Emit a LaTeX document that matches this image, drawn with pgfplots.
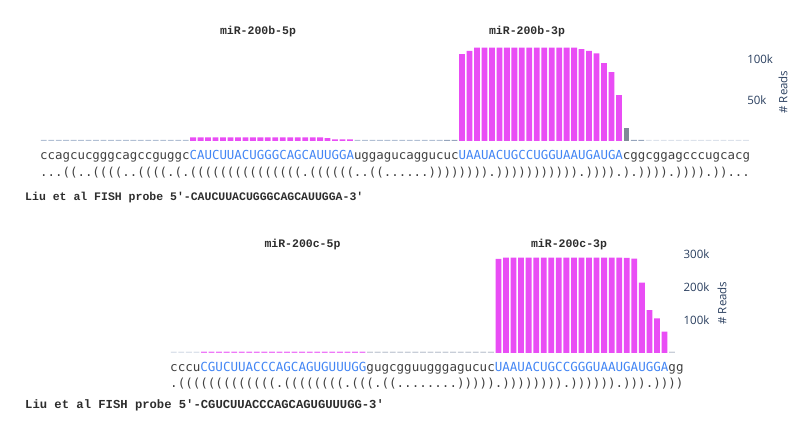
\documentclass[border=0pt]{standalone}
\usepackage{pgfplots}
\pgfplotsset{compat=1.18}
\usepackage{fontspec}
\setmainfont{Open Sans}
\newfontfamily\seqfont{DejaVu Sans Mono}
\newfontfamily\courfont{Liberation Mono}
\ExplSyntaxOn
\cs_new:Npn \rep #1#2 {\prg_replicate:nn{#1}{#2}}
\ExplSyntaxOff
\definecolor{mag}{RGB}{233,77,245}
\definecolor{grayb}{RGB}{128,138,152}
\definecolor{dashA}{RGB}{178,192,212}
\definecolor{dashB}{RGB}{150,165,188}
\definecolor{dashC}{RGB}{220,226,235}
\definecolor{dashD}{RGB}{200,206,216}
\definecolor{seqblue}{RGB}{66,133,244}
\definecolor{seqgray}{RGB}{64,64,64}
\definecolor{tickc}{RGB}{42,63,95}
\definecolor{titc}{RGB}{45,45,45}
\begin{document}
\begin{tikzpicture}
\path[use as bounding box] (0pt,0pt) rectangle (802pt,435pt);
% ---------------- top panel: miR-200b ----------------
\begin{axis}[
  at={(40pt,294pt)}, anchor=south west,
  scale only axis, width=709.65pt, height=98.4pt,
  xmin=-0.5, xmax=94.5, ymin=0, ymax=120,
  axis line style={draw=none}, tick style={draw=none},
  xtick=\empty, ytick={50,100}, yticklabels={50k,100k},
  yticklabel pos=right,
  yticklabel style={anchor=west, inner sep=0pt, xshift=-2.6pt, font=\fontsize{11.5}{13}\selectfont, text=tickc},
  clip=false,
]
\addplot[ybar, bar shift=0pt, bar width=5.8pt, fill=dashA, draw=none] coordinates {
(0,1.5)(1,1.5)(2,1.5)(3,1.5)(4,1.5)(5,1.5)(6,1.5)(7,1.5)(8,1.5)(9,1.5)
(10,1.5)(11,1.5)(12,1.5)(13,1.5)(14,1.5)(15,1.5)(16,1.5)(17,1.5)(18,1.5)(19,1.5)
(42,1.5)(43,1.5)(44,1.5)(45,1.5)(46,1.5)(47,1.5)(48,1.5)(49,1.5)(50,1.5)(51,1.5)(52,1.5)(53,1.5)};
\addplot[ybar, bar shift=0pt, bar width=5.8pt, fill=dashB, draw=none] coordinates {
(54,1.5)(55,1.5)(79,1.5)(80,1.5)};
\addplot[ybar, bar shift=0pt, bar width=5.8pt, fill=dashC, draw=none] coordinates {
(81,1.5)(82,1.5)(83,1.5)(84,1.5)(85,1.5)(86,1.5)(87,1.5)(88,1.5)(89,1.5)(90,1.5)
(91,1.5)(92,1.5)(93,1.5)(94,1.5)};
\addplot[ybar, bar shift=0pt, bar width=5.8pt, fill=mag, draw=none] coordinates {
(20,4.5)(21,4.5)(22,4.5)(23,4.5)(24,4.5)(25,4.5)(26,4.5)(27,4.5)(28,4.5)(29,4.5)
(30,4.5)(31,4.5)(32,4.5)(33,4.5)(34,4.5)(35,4.5)(36,4.5)(37,4.5)(38,3.5)(39,2)(40,2)(41,2)
(56,106)(57,110)(58,114)(59,114)(60,114)(61,114)(62,114)(63,114)(64,114)(65,114)
(66,114)(67,114)(68,114)(69,114)(70,114)(71,114)(72,112)(73,110)(74,107)(75,95)(76,84)(77,56)};
\addplot[ybar, bar shift=0pt, bar width=5.8pt, fill=grayb, draw=none] coordinates {(78,16)};
\end{axis}
% ---------------- bottom panel: miR-200c ----------------
\begin{axis}[
  at={(170pt,82pt)}, anchor=south west,
  scale only axis, width=513.4pt, height=99pt,
  xmin=-0.5, xmax=67.5, ymin=0, ymax=300,
  axis line style={draw=none}, tick style={draw=none},
  xtick=\empty, ytick={100,200,300}, yticklabels={100k,200k,300k},
  yticklabel pos=right,
  yticklabel style={anchor=west, inner sep=0pt, xshift=0pt, font=\fontsize{11.5}{13}\selectfont, text=tickc},
  clip=false,
]
\addplot[ybar, bar shift=0pt, bar width=5.8pt, fill=dashC, draw=none] coordinates {
(0,4)(1,4)(2,4)(3,4)};
\addplot[ybar, bar shift=0pt, bar width=5.8pt, fill=dashD, draw=none] coordinates {
(26,4)(27,4)(28,4)(29,4)(30,4)(31,4)(32,4)(33,4)(34,4)(35,4)(36,4)(37,4)(38,4)(39,4)
(40,4)(41,4)(42,4)(66,4)};
\addplot[ybar, bar shift=0pt, bar width=5.8pt, fill=mag!75!white, draw=none] coordinates {
(4,4)(5,4)(6,4)(7,4)(8,4)(9,4)(10,4)(11,4)(12,4)(13,4)(14,4)(15,4)(16,4)(17,4)
(18,4)(19,4)(20,4)(21,4)(22,4)(23,4)(24,4)(25,4)};
\addplot[ybar, bar shift=0pt, bar width=5.8pt, fill=mag, draw=none] coordinates {
(43,285)(44,289)(45,289)(46,289)(47,289)(48,289)(49,289)(50,289)(51,289)(52,289)
(53,289)(54,289)(55,289)(56,289)(57,289)(58,289)(59,289)(60,288)(61,286)
(62,213)(63,130)(64,105)(65,65)};
\end{axis}
% ---------------- texts ----------------
\begin{scope}[every node/.style={inner sep=0pt}]
% titles
\node[anchor=base, text=titc, font=\courfont\bfseries\fontsize{11.5}{13}\selectfont] at (258pt,400.5pt) {miR-200b-5p};
\node[anchor=base, text=titc, font=\courfont\bfseries\fontsize{11.5}{13}\selectfont] at (527pt,400.5pt) {miR-200b-3p};
\node[anchor=base, text=titc, font=\courfont\bfseries\fontsize{11.5}{13}\selectfont] at (302.5pt,187.7pt) {miR-200c-5p};
\node[anchor=base, text=titc, font=\courfont\bfseries\fontsize{11.5}{13}\selectfont] at (569pt,187.7pt) {miR-200c-3p};
% y labels
\node[rotate=90, text=tickc, font=\fontsize{11.5}{13}\selectfont] at (783pt,343pt) {\# Reads};
\node[rotate=90, text=tickc, font=\fontsize{11.5}{13}\selectfont] at (722pt,132pt) {\# Reads};
% top sequence
\node[anchor=base west, font=\seqfont\fontsize{12.41}{14}\selectfont] at (40pt,275.5pt) {%
\textcolor{seqgray}{ccagcucgggcagccguggc}%
\textcolor{seqblue}{CAUCUUACUGGGCAGCAUUGGA}%
\textcolor{seqgray}{uggagucaggucuc}%
\textcolor{seqblue}{UAAUACUGCCUGGUAAUGAUGA}%
\textcolor{seqgray}{cggcggagcccugcacg}};
% top structure
\node[anchor=base west, text=seqgray, font=\seqfont\fontsize{12.41}{14}\selectfont] at (40pt,258pt) {%
\rep{3}{.}\rep{2}{(}\rep{2}{.}\rep{4}{(}\rep{2}{.}\rep{4}{(}.(.\rep{15}{(}.\rep{6}{(}\rep{2}{.}\rep{2}{(}%
\rep{6}{.}\rep{8}{)}.\rep{11}{)}.\rep{4}{)}.).\rep{4}{)}.\rep{4}{)}.\rep{2}{)}\rep{3}{.}};
% top FISH probe
\node[anchor=base west, text=titc, font=\courfont\bfseries\fontsize{11.5}{13}\selectfont] at (25pt,234pt) {Liu et al FISH probe 5'-CAUCUUACUGGGCAGCAUUGGA-3'};
% bottom sequence
\node[anchor=base west, font=\seqfont\fontsize{12.54}{14}\selectfont] at (170pt,63.3pt) {%
\textcolor{seqgray}{cccu}%
\textcolor{seqblue}{CGUCUUACCCAGCAGUGUUUGG}%
\textcolor{seqgray}{gugcgguugggagucuc}%
\textcolor{seqblue}{UAAUACUGCCGGGUAAUGAUGGA}%
\textcolor{seqgray}{gg}};
% bottom structure
\node[anchor=base west, text=seqgray, font=\seqfont\fontsize{12.54}{14}\selectfont] at (170pt,47.7pt) {%
.\rep{13}{(}.\rep{8}{(}.\rep{3}{(}.\rep{2}{(}\rep{8}{.}\rep{5}{)}.\rep{8}{)}.\rep{6}{)}.\rep{3}{)}.\rep{4}{)}};
% bottom FISH probe
\node[anchor=base west, text=titc, font=\courfont\bfseries\fontsize{12.2}{14}\selectfont] at (25pt,26pt) {Liu et al FISH probe 5'-CGUCUUACCCAGCAGUGUUUGG-3'};
\end{scope}
\end{tikzpicture}
\end{document}
